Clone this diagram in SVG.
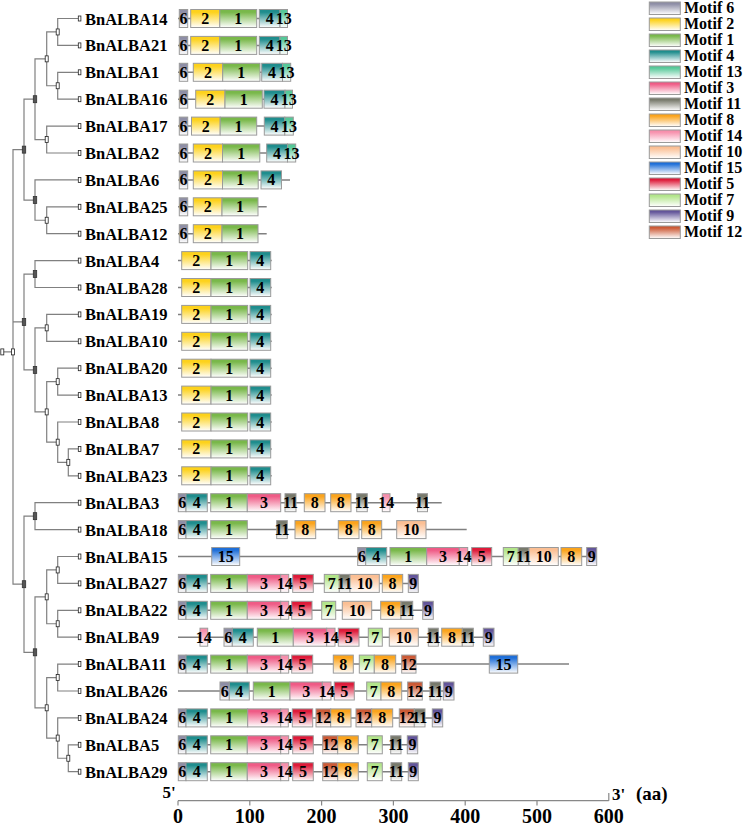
<svg xmlns="http://www.w3.org/2000/svg" width="748" height="827" viewBox="0 0 748 827">
<defs>
<linearGradient id="g6" x1="0" y1="0" x2="0" y2="1"><stop offset="0" stop-color="#8e8ea6"/><stop offset="0.15" stop-color="#8e8ea6"/><stop offset="1" stop-color="#fff"/></linearGradient>
<linearGradient id="g2" x1="0" y1="0" x2="0" y2="1"><stop offset="0" stop-color="#fdd21c"/><stop offset="0.15" stop-color="#fdd21c"/><stop offset="1" stop-color="#fff"/></linearGradient>
<linearGradient id="g1" x1="0" y1="0" x2="0" y2="1"><stop offset="0" stop-color="#79b84a"/><stop offset="0.15" stop-color="#79b84a"/><stop offset="1" stop-color="#fff"/></linearGradient>
<linearGradient id="g4" x1="0" y1="0" x2="0" y2="1"><stop offset="0" stop-color="#1f8d8d"/><stop offset="0.15" stop-color="#1f8d8d"/><stop offset="1" stop-color="#fff"/></linearGradient>
<linearGradient id="g13" x1="0" y1="0" x2="0" y2="1"><stop offset="0" stop-color="#55c898"/><stop offset="0.15" stop-color="#55c898"/><stop offset="1" stop-color="#fff"/></linearGradient>
<linearGradient id="g3" x1="0" y1="0" x2="0" y2="1"><stop offset="0" stop-color="#ef5b86"/><stop offset="0.15" stop-color="#ef5b86"/><stop offset="1" stop-color="#fff"/></linearGradient>
<linearGradient id="g11" x1="0" y1="0" x2="0" y2="1"><stop offset="0" stop-color="#787a6c"/><stop offset="0.15" stop-color="#787a6c"/><stop offset="1" stop-color="#fff"/></linearGradient>
<linearGradient id="g8" x1="0" y1="0" x2="0" y2="1"><stop offset="0" stop-color="#fba41c"/><stop offset="0.15" stop-color="#fba41c"/><stop offset="1" stop-color="#fff"/></linearGradient>
<linearGradient id="g14" x1="0" y1="0" x2="0" y2="1"><stop offset="0" stop-color="#f78fac"/><stop offset="0.15" stop-color="#f78fac"/><stop offset="1" stop-color="#fff"/></linearGradient>
<linearGradient id="g10" x1="0" y1="0" x2="0" y2="1"><stop offset="0" stop-color="#fbbf94"/><stop offset="0.15" stop-color="#fbbf94"/><stop offset="1" stop-color="#fff"/></linearGradient>
<linearGradient id="g15" x1="0" y1="0" x2="0" y2="1"><stop offset="0" stop-color="#1f6fd8"/><stop offset="0.15" stop-color="#1f6fd8"/><stop offset="1" stop-color="#fff"/></linearGradient>
<linearGradient id="g5" x1="0" y1="0" x2="0" y2="1"><stop offset="0" stop-color="#de1b3a"/><stop offset="0.15" stop-color="#de1b3a"/><stop offset="1" stop-color="#fff"/></linearGradient>
<linearGradient id="g7" x1="0" y1="0" x2="0" y2="1"><stop offset="0" stop-color="#b2e58a"/><stop offset="0.15" stop-color="#b2e58a"/><stop offset="1" stop-color="#fff"/></linearGradient>
<linearGradient id="g9" x1="0" y1="0" x2="0" y2="1"><stop offset="0" stop-color="#63559a"/><stop offset="0.15" stop-color="#63559a"/><stop offset="1" stop-color="#fff"/></linearGradient>
<linearGradient id="g12" x1="0" y1="0" x2="0" y2="1"><stop offset="0" stop-color="#cc5a36"/><stop offset="0.15" stop-color="#cc5a36"/><stop offset="1" stop-color="#fff"/></linearGradient>
</defs>
<style>
text{font-family:"Liberation Serif","Times New Roman",serif;font-weight:bold;fill:#000}
.nm{font-size:16.5px}
.row text.l{font-size:16px;text-anchor:middle}
.row rect{stroke:#9a9a9a;stroke-width:1;height:18px}
.row rect.lf{fill:#fff;stroke:#222;stroke-width:0.8;height:5px}
.ln{stroke:#808080;stroke-width:1.5}
.tree path{fill:none;stroke:#808080;stroke-width:1.2}
.nd{fill:#fff;stroke:#222;stroke-width:0.8}
.nd.dk{fill:#555;stroke:#333}
.m6{fill:url(#g6)}.m2{fill:url(#g2)}.m1{fill:url(#g1)}.m4{fill:url(#g4)}.m13{fill:url(#g13)}
.m3{fill:url(#g3)}.m11{fill:url(#g11)}.m8{fill:url(#g8)}.m14{fill:url(#g14)}.m10{fill:url(#g10)}
.m15{fill:url(#g15)}.m5{fill:url(#g5)}.m7{fill:url(#g7)}.m9{fill:url(#g9)}.m12{fill:url(#g12)}
.leg rect{stroke:#9a9a9a;stroke-width:1}
.leg text{font-size:16px}
.ax{stroke:#888;stroke-width:1.2;fill:none}
.tk{font-size:20px;text-anchor:middle}
</style>

<g id="connectors" class="tree">
<path d="M78.3 18.5H57.7V45.4H78.3"/>
<path d="M78.3 72.3H57.7V99.2H78.3"/>
<path d="M57.7 31.95H46.7V85.75H57.7"/>
<path d="M78.3 126.1H46.7V153H78.3"/>
<path d="M46.7 58.85H35V139.55H46.7"/>
<path d="M78.3 206.8H46.7V233.7H78.3"/>
<path d="M78.3 179.9H35V220.25H46.7"/>
<path d="M35 99.2H24V200.08H35"/>
<path d="M78.3 260.6H35V287.5H78.3"/>
<path d="M78.3 314.4H46.7V341.3H78.3"/>
<path d="M78.3 368.2H57.7V395.1H78.3"/>
<path d="M78.3 448.9H68.3V475.8H78.3"/>
<path d="M78.3 422H57.7V462.35H68.3"/>
<path d="M57.7 381.65H46.7V442.18H57.7"/>
<path d="M46.7 327.85H35V411.9H46.7"/>
<path d="M35 274.05H24V369.9H35"/>
<path d="M78.3 502.7H35V529.6H78.3"/>
<path d="M78.3 556.5H57.7V583.4H78.3"/>
<path d="M78.3 610.3H57.7V637.2H78.3"/>
<path d="M57.7 569.95H46.7V623.75H57.7"/>
<path d="M78.3 664.1H57.7V691H78.3"/>
<path d="M78.3 744.8H68.3V771.7H78.3"/>
<path d="M78.3 717.9H57.7V758.25H68.3"/>
<path d="M57.7 677.55H46.7V738.08H57.7"/>
<path d="M46.7 596.85H35V707.8H46.7"/>
<path d="M35 516.15H24V652.3H35"/>
<path d="M24 149.64H13V584.2H24M13 321.97H24M2 351.9H13"/>
</g>

<g id="tree-nodes">
<rect class="nd" x="56.2" y="28.95" width="3" height="6"/>
<rect class="nd" x="56.2" y="82.75" width="3" height="6"/>
<rect class="nd" x="45.2" y="55.85" width="3" height="6"/>
<rect class="nd" x="45.2" y="136.55" width="3" height="6"/>
<rect class="nd dk" x="33.3" y="95.7" width="3.4" height="7"/>
<rect class="nd" x="45.2" y="217.25" width="3" height="6"/>
<rect class="nd dk" x="33.3" y="196.58" width="3.4" height="7"/>
<rect class="nd dk" x="22.3" y="146.14" width="3.4" height="7"/>
<rect class="nd dk" x="33.3" y="270.55" width="3.4" height="7"/>
<rect class="nd" x="45.2" y="324.85" width="3" height="6"/>
<rect class="nd" x="56.2" y="378.65" width="3" height="6"/>
<rect class="nd" x="66.8" y="459.35" width="3" height="6"/>
<rect class="nd" x="56.2" y="439.18" width="3" height="6"/>
<rect class="nd" x="45.2" y="408.9" width="3" height="6"/>
<rect class="nd dk" x="33.3" y="366.4" width="3.4" height="7"/>
<rect class="nd dk" x="22.3" y="318.47" width="3.4" height="7"/>
<rect class="nd dk" x="33.3" y="512.65" width="3.4" height="7"/>
<rect class="nd" x="56.2" y="566.95" width="3" height="6"/>
<rect class="nd" x="56.2" y="620.75" width="3" height="6"/>
<rect class="nd" x="45.2" y="593.85" width="3" height="6"/>
<rect class="nd" x="56.2" y="674.55" width="3" height="6"/>
<rect class="nd" x="66.8" y="755.25" width="3" height="6"/>
<rect class="nd" x="56.2" y="735.08" width="3" height="6"/>
<rect class="nd" x="45.2" y="704.8" width="3" height="6"/>
<rect class="nd dk" x="33.3" y="648.8" width="3.4" height="7"/>
<rect class="nd dk" x="22.3" y="580.7" width="3.4" height="7"/>
<rect class="nd" x="11.5" y="348.9" width="3" height="6"/>
<rect class="nd" x="0.8" y="348.9" width="3" height="6"/>
</g>

<g id="BnALBA14" class="row" transform="translate(0,18.5)">
<rect class="lf" x="78.3" y="-2.5" width="2.6"/><text class="nm" x="85" y="6">BnALBA14</text>
<line class="ln" x1="178" y1="0" x2="287.5" y2="0"/>
<rect class="m6" x="179.3" y="-9" width="8.4"/><rect class="m2" x="190.7" y="-9" width="29.1"/><rect class="m1" x="219.8" y="-9" width="36.9"/><rect class="m4" x="259.3" y="-9" width="20.7"/><rect class="m13" x="280" y="-9" width="7.5"/>
<text class="l" x="183.5" y="5.5">6</text><text class="l" x="205.25" y="5.5">2</text><text class="l" x="238.25" y="5.5">1</text><text class="l" x="269.65" y="5.5">4</text><text class="l" x="283.75" y="5.5">13</text>
</g>
<g id="BnALBA21" class="row" transform="translate(0,45.4)">
<rect class="lf" x="78.3" y="-2.5" width="2.6"/><text class="nm" x="85" y="6">BnALBA21</text>
<line class="ln" x1="178" y1="0" x2="287.5" y2="0"/>
<rect class="m6" x="179.3" y="-9" width="8.4"/><rect class="m2" x="190.7" y="-9" width="29.1"/><rect class="m1" x="219.8" y="-9" width="36.9"/><rect class="m4" x="259.3" y="-9" width="20.7"/><rect class="m13" x="280" y="-9" width="7.5"/>
<text class="l" x="183.5" y="5.5">6</text><text class="l" x="205.25" y="5.5">2</text><text class="l" x="238.25" y="5.5">1</text><text class="l" x="269.65" y="5.5">4</text><text class="l" x="283.75" y="5.5">13</text>
</g>
<g id="BnALBA1" class="row" transform="translate(0,72.3)">
<rect class="lf" x="78.3" y="-2.5" width="2.6"/><text class="nm" x="85" y="6">BnALBA1</text>
<line class="ln" x1="178" y1="0" x2="290.7" y2="0"/>
<rect class="m6" x="179.3" y="-9" width="8.4"/><rect class="m2" x="193.3" y="-9" width="29.4"/><rect class="m1" x="222.7" y="-9" width="37.3"/><rect class="m4" x="261.7" y="-9" width="20.8"/><rect class="m13" x="282.5" y="-9" width="8.2"/>
<text class="l" x="183.5" y="5.5">6</text><text class="l" x="208" y="5.5">2</text><text class="l" x="241.35" y="5.5">1</text><text class="l" x="272.1" y="5.5">4</text><text class="l" x="286.6" y="5.5">13</text>
</g>
<g id="BnALBA16" class="row" transform="translate(0,99.2)">
<rect class="lf" x="78.3" y="-2.5" width="2.6"/><text class="nm" x="85" y="6">BnALBA16</text>
<line class="ln" x1="178" y1="0" x2="292.5" y2="0"/>
<rect class="m6" x="179.3" y="-9" width="8.4"/><rect class="m2" x="195.7" y="-9" width="29.3"/><rect class="m1" x="225" y="-9" width="37.3"/><rect class="m4" x="264" y="-9" width="21"/><rect class="m13" x="285" y="-9" width="7.5"/>
<text class="l" x="183.5" y="5.5">6</text><text class="l" x="210.35" y="5.5">2</text><text class="l" x="243.65" y="5.5">1</text><text class="l" x="274.5" y="5.5">4</text><text class="l" x="288.75" y="5.5">13</text>
</g>
<g id="BnALBA17" class="row" transform="translate(0,126.1)">
<rect class="lf" x="78.3" y="-2.5" width="2.6"/><text class="nm" x="85" y="6">BnALBA17</text>
<line class="ln" x1="178" y1="0" x2="293.3" y2="0"/>
<rect class="m6" x="179.3" y="-9" width="8.4"/><rect class="m2" x="191.5" y="-9" width="28.7"/><rect class="m1" x="220.2" y="-9" width="36.5"/><rect class="m4" x="264.3" y="-9" width="20.5"/><rect class="m13" x="284.8" y="-9" width="8.5"/>
<text class="l" x="183.5" y="5.5">6</text><text class="l" x="205.85" y="5.5">2</text><text class="l" x="238.45" y="5.5">1</text><text class="l" x="274.55" y="5.5">4</text><text class="l" x="289.05" y="5.5">13</text>
</g>
<g id="BnALBA2" class="row" transform="translate(0,153)">
<rect class="lf" x="78.3" y="-2.5" width="2.6"/><text class="nm" x="85" y="6">BnALBA2</text>
<line class="ln" x1="178" y1="0" x2="295.7" y2="0"/>
<rect class="m6" x="179.3" y="-9" width="8.4"/><rect class="m2" x="193.3" y="-9" width="29.2"/><rect class="m1" x="222.5" y="-9" width="37.3"/><rect class="m4" x="266.7" y="-9" width="20.8"/><rect class="m13" x="287.5" y="-9" width="8.2"/>
<text class="l" x="183.5" y="5.5">6</text><text class="l" x="207.9" y="5.5">2</text><text class="l" x="241.15" y="5.5">1</text><text class="l" x="277.1" y="5.5">4</text><text class="l" x="291.6" y="5.5">13</text>
</g>
<g id="BnALBA6" class="row" transform="translate(0,179.9)">
<rect class="lf" x="78.3" y="-2.5" width="2.6"/><text class="nm" x="85" y="6">BnALBA6</text>
<line class="ln" x1="178" y1="0" x2="290" y2="0"/>
<rect class="m6" x="179.3" y="-9" width="8.4"/><rect class="m2" x="193.3" y="-9" width="29.2"/><rect class="m1" x="222.5" y="-9" width="35.7"/><rect class="m4" x="261" y="-9" width="20.5"/>
<text class="l" x="183.5" y="5.5">6</text><text class="l" x="207.9" y="5.5">2</text><text class="l" x="240.35" y="5.5">1</text><text class="l" x="271.25" y="5.5">4</text>
</g>
<g id="BnALBA25" class="row" transform="translate(0,206.8)">
<rect class="lf" x="78.3" y="-2.5" width="2.6"/><text class="nm" x="85" y="6">BnALBA25</text>
<line class="ln" x1="178" y1="0" x2="266.7" y2="0"/>
<rect class="m6" x="179.3" y="-9" width="8.4"/><rect class="m2" x="193.3" y="-9" width="28.7"/><rect class="m1" x="222" y="-9" width="36"/>
<text class="l" x="183.5" y="5.5">6</text><text class="l" x="207.65" y="5.5">2</text><text class="l" x="240" y="5.5">1</text>
</g>
<g id="BnALBA12" class="row" transform="translate(0,233.7)">
<rect class="lf" x="78.3" y="-2.5" width="2.6"/><text class="nm" x="85" y="6">BnALBA12</text>
<line class="ln" x1="178" y1="0" x2="266.7" y2="0"/>
<rect class="m6" x="179.3" y="-9" width="8.4"/><rect class="m2" x="193.3" y="-9" width="28.7"/><rect class="m1" x="222" y="-9" width="36"/>
<text class="l" x="183.5" y="5.5">6</text><text class="l" x="207.65" y="5.5">2</text><text class="l" x="240" y="5.5">1</text>
</g>
<g id="BnALBA4" class="row" transform="translate(0,260.6)">
<rect class="lf" x="78.3" y="-2.5" width="2.6"/><text class="nm" x="85" y="6">BnALBA4</text>
<line class="ln" x1="178" y1="0" x2="271.7" y2="0"/>
<rect class="m2" x="181.7" y="-9" width="29.3"/><rect class="m1" x="211" y="-9" width="36.7"/><rect class="m4" x="250" y="-9" width="20.7"/>
<text class="l" x="196.35" y="5.5">2</text><text class="l" x="229.35" y="5.5">1</text><text class="l" x="260.35" y="5.5">4</text>
</g>
<g id="BnALBA28" class="row" transform="translate(0,287.5)">
<rect class="lf" x="78.3" y="-2.5" width="2.6"/><text class="nm" x="85" y="6">BnALBA28</text>
<line class="ln" x1="178" y1="0" x2="271.7" y2="0"/>
<rect class="m2" x="181.7" y="-9" width="29.3"/><rect class="m1" x="211" y="-9" width="36.7"/><rect class="m4" x="250" y="-9" width="20.7"/>
<text class="l" x="196.35" y="5.5">2</text><text class="l" x="229.35" y="5.5">1</text><text class="l" x="260.35" y="5.5">4</text>
</g>
<g id="BnALBA19" class="row" transform="translate(0,314.4)">
<rect class="lf" x="78.3" y="-2.5" width="2.6"/><text class="nm" x="85" y="6">BnALBA19</text>
<line class="ln" x1="178" y1="0" x2="271.7" y2="0"/>
<rect class="m2" x="181.7" y="-9" width="29.3"/><rect class="m1" x="211" y="-9" width="36.7"/><rect class="m4" x="250" y="-9" width="20.7"/>
<text class="l" x="196.35" y="5.5">2</text><text class="l" x="229.35" y="5.5">1</text><text class="l" x="260.35" y="5.5">4</text>
</g>
<g id="BnALBA10" class="row" transform="translate(0,341.3)">
<rect class="lf" x="78.3" y="-2.5" width="2.6"/><text class="nm" x="85" y="6">BnALBA10</text>
<line class="ln" x1="178" y1="0" x2="271.7" y2="0"/>
<rect class="m2" x="181.7" y="-9" width="29.3"/><rect class="m1" x="211" y="-9" width="36.7"/><rect class="m4" x="250" y="-9" width="20.7"/>
<text class="l" x="196.35" y="5.5">2</text><text class="l" x="229.35" y="5.5">1</text><text class="l" x="260.35" y="5.5">4</text>
</g>
<g id="BnALBA20" class="row" transform="translate(0,368.2)">
<rect class="lf" x="78.3" y="-2.5" width="2.6"/><text class="nm" x="85" y="6">BnALBA20</text>
<line class="ln" x1="178" y1="0" x2="271.7" y2="0"/>
<rect class="m2" x="181.7" y="-9" width="29.3"/><rect class="m1" x="211" y="-9" width="36.7"/><rect class="m4" x="250" y="-9" width="20.7"/>
<text class="l" x="196.35" y="5.5">2</text><text class="l" x="229.35" y="5.5">1</text><text class="l" x="260.35" y="5.5">4</text>
</g>
<g id="BnALBA13" class="row" transform="translate(0,395.1)">
<rect class="lf" x="78.3" y="-2.5" width="2.6"/><text class="nm" x="85" y="6">BnALBA13</text>
<line class="ln" x1="178" y1="0" x2="271.7" y2="0"/>
<rect class="m2" x="181.7" y="-9" width="29.3"/><rect class="m1" x="211" y="-9" width="36.7"/><rect class="m4" x="250" y="-9" width="20.7"/>
<text class="l" x="196.35" y="5.5">2</text><text class="l" x="229.35" y="5.5">1</text><text class="l" x="260.35" y="5.5">4</text>
</g>
<g id="BnALBA8" class="row" transform="translate(0,422)">
<rect class="lf" x="78.3" y="-2.5" width="2.6"/><text class="nm" x="85" y="6">BnALBA8</text>
<line class="ln" x1="178" y1="0" x2="271.7" y2="0"/>
<rect class="m2" x="181.7" y="-9" width="29.3"/><rect class="m1" x="211" y="-9" width="36.7"/><rect class="m4" x="250" y="-9" width="20.7"/>
<text class="l" x="196.35" y="5.5">2</text><text class="l" x="229.35" y="5.5">1</text><text class="l" x="260.35" y="5.5">4</text>
</g>
<g id="BnALBA7" class="row" transform="translate(0,448.9)">
<rect class="lf" x="78.3" y="-2.5" width="2.6"/><text class="nm" x="85" y="6">BnALBA7</text>
<line class="ln" x1="178" y1="0" x2="271.7" y2="0"/>
<rect class="m2" x="181.7" y="-9" width="29.3"/><rect class="m1" x="211" y="-9" width="36.7"/><rect class="m4" x="250" y="-9" width="20.7"/>
<text class="l" x="196.35" y="5.5">2</text><text class="l" x="229.35" y="5.5">1</text><text class="l" x="260.35" y="5.5">4</text>
</g>
<g id="BnALBA23" class="row" transform="translate(0,475.8)">
<rect class="lf" x="78.3" y="-2.5" width="2.6"/><text class="nm" x="85" y="6">BnALBA23</text>
<line class="ln" x1="178" y1="0" x2="271.7" y2="0"/>
<rect class="m2" x="181.7" y="-9" width="29.3"/><rect class="m1" x="211" y="-9" width="36.7"/><rect class="m4" x="250" y="-9" width="20.7"/>
<text class="l" x="196.35" y="5.5">2</text><text class="l" x="229.35" y="5.5">1</text><text class="l" x="260.35" y="5.5">4</text>
</g>
<g id="BnALBA3" class="row" transform="translate(0,502.7)">
<rect class="lf" x="78.3" y="-2.5" width="2.6"/><text class="nm" x="85" y="6">BnALBA3</text>
<line class="ln" x1="178" y1="0" x2="441.7" y2="0"/>
<rect class="m6" x="178.3" y="-9" width="7.7"/><rect class="m4" x="186" y="-9" width="21.3"/><rect class="m1" x="210.7" y="-9" width="36.6"/><rect class="m3" x="247.3" y="-9" width="33.4"/><rect class="m11" x="285" y="-9" width="11"/><rect class="m8" x="304.3" y="-9" width="20.7"/><rect class="m8" x="330.7" y="-9" width="20.3"/><rect class="m11" x="356.7" y="-9" width="10.6"/><rect class="m14" x="382.3" y="-9" width="7.7"/><rect class="m11" x="417.5" y="-9" width="10"/>
<text class="l" x="182.15" y="5.5">6</text><text class="l" x="196.65" y="5.5">4</text><text class="l" x="229" y="5.5">1</text><text class="l" x="264" y="5.5">3</text><text class="l" x="290.5" y="5.5">11</text><text class="l" x="314.65" y="5.5">8</text><text class="l" x="340.85" y="5.5">8</text><text class="l" x="362" y="5.5">11</text><text class="l" x="386.15" y="5.5">14</text><text class="l" x="422.5" y="5.5">11</text>
</g>
<g id="BnALBA18" class="row" transform="translate(0,529.6)">
<rect class="lf" x="78.3" y="-2.5" width="2.6"/><text class="nm" x="85" y="6">BnALBA18</text>
<line class="ln" x1="178" y1="0" x2="466.7" y2="0"/>
<rect class="m6" x="178.3" y="-9" width="7.7"/><rect class="m4" x="186" y="-9" width="21.3"/><rect class="m1" x="210.7" y="-9" width="36.6"/><rect class="m11" x="276.7" y="-9" width="10.6"/><rect class="m8" x="295" y="-9" width="20.7"/><rect class="m8" x="338.3" y="-9" width="20.7"/><rect class="m8" x="361.7" y="-9" width="20"/><rect class="m10" x="396.7" y="-9" width="29.3"/>
<text class="l" x="182.15" y="5.5">6</text><text class="l" x="196.65" y="5.5">4</text><text class="l" x="229" y="5.5">1</text><text class="l" x="282" y="5.5">11</text><text class="l" x="305.35" y="5.5">8</text><text class="l" x="348.65" y="5.5">8</text><text class="l" x="371.7" y="5.5">8</text><text class="l" x="411.35" y="5.5">10</text>
</g>
<g id="BnALBA15" class="row" transform="translate(0,556.5)">
<rect class="lf" x="78.3" y="-2.5" width="2.6"/><text class="nm" x="85" y="6">BnALBA15</text>
<line class="ln" x1="178" y1="0" x2="596.7" y2="0"/>
<rect class="m15" x="211.7" y="-9" width="28"/><rect class="m6" x="357.7" y="-9" width="8"/><rect class="m4" x="365.7" y="-9" width="21"/><rect class="m1" x="390" y="-9" width="36.7"/><rect class="m3" x="426.7" y="-9" width="32.6"/><rect class="m14" x="459.3" y="-9" width="8.4"/><rect class="m5" x="471.7" y="-9" width="20"/><rect class="m7" x="503.3" y="-9" width="15"/><rect class="m11" x="518.3" y="-9" width="10.7"/><rect class="m10" x="529" y="-9" width="29.3"/><rect class="m8" x="561" y="-9" width="20.7"/><rect class="m9" x="586.7" y="-9" width="10"/>
<text class="l" x="225.7" y="5.5">15</text><text class="l" x="361.7" y="5.5">6</text><text class="l" x="376.2" y="5.5">4</text><text class="l" x="408.35" y="5.5">1</text><text class="l" x="443" y="5.5">3</text><text class="l" x="463.5" y="5.5">14</text><text class="l" x="481.7" y="5.5">5</text><text class="l" x="510.8" y="5.5">7</text><text class="l" x="523.65" y="5.5">11</text><text class="l" x="543.65" y="5.5">10</text><text class="l" x="571.35" y="5.5">8</text><text class="l" x="591.7" y="5.5">9</text>
</g>
<g id="BnALBA27" class="row" transform="translate(0,583.4)">
<rect class="lf" x="78.3" y="-2.5" width="2.6"/><text class="nm" x="85" y="6">BnALBA27</text>
<line class="ln" x1="178" y1="0" x2="418.3" y2="0"/>
<rect class="m6" x="178.3" y="-9" width="7.7"/><rect class="m4" x="186" y="-9" width="21.3"/><rect class="m1" x="210.7" y="-9" width="36.6"/><rect class="m3" x="247.3" y="-9" width="33.4"/><rect class="m14" x="280.7" y="-9" width="8"/><rect class="m5" x="292.7" y="-9" width="20.6"/><rect class="m7" x="324.3" y="-9" width="15"/><rect class="m11" x="339.3" y="-9" width="10.7"/><rect class="m10" x="350" y="-9" width="29.3"/><rect class="m8" x="382.3" y="-9" width="20.4"/><rect class="m9" x="408.3" y="-9" width="10"/>
<text class="l" x="182.15" y="5.5">6</text><text class="l" x="196.65" y="5.5">4</text><text class="l" x="229" y="5.5">1</text><text class="l" x="264" y="5.5">3</text><text class="l" x="284.7" y="5.5">14</text><text class="l" x="303" y="5.5">5</text><text class="l" x="331.8" y="5.5">7</text><text class="l" x="344.65" y="5.5">11</text><text class="l" x="364.65" y="5.5">10</text><text class="l" x="392.5" y="5.5">8</text><text class="l" x="413.3" y="5.5">9</text>
</g>
<g id="BnALBA22" class="row" transform="translate(0,610.3)">
<rect class="lf" x="78.3" y="-2.5" width="2.6"/><text class="nm" x="85" y="6">BnALBA22</text>
<line class="ln" x1="178" y1="0" x2="433.3" y2="0"/>
<rect class="m6" x="178.3" y="-9" width="7.7"/><rect class="m4" x="186" y="-9" width="21.3"/><rect class="m1" x="210.7" y="-9" width="36.6"/><rect class="m3" x="247.3" y="-9" width="33.4"/><rect class="m14" x="280.7" y="-9" width="8"/><rect class="m5" x="291.7" y="-9" width="20.3"/><rect class="m7" x="321.7" y="-9" width="14"/><rect class="m10" x="342.3" y="-9" width="29.4"/><rect class="m8" x="380.7" y="-9" width="20.3"/><rect class="m11" x="401" y="-9" width="11.7"/><rect class="m9" x="422.7" y="-9" width="10.6"/>
<text class="l" x="182.15" y="5.5">6</text><text class="l" x="196.65" y="5.5">4</text><text class="l" x="229" y="5.5">1</text><text class="l" x="264" y="5.5">3</text><text class="l" x="284.7" y="5.5">14</text><text class="l" x="301.85" y="5.5">5</text><text class="l" x="328.7" y="5.5">7</text><text class="l" x="357" y="5.5">10</text><text class="l" x="390.85" y="5.5">8</text><text class="l" x="406.85" y="5.5">11</text><text class="l" x="428" y="5.5">9</text>
</g>
<g id="BnALBA9" class="row" transform="translate(0,637.2)">
<rect class="lf" x="78.3" y="-2.5" width="2.6"/><text class="nm" x="85" y="6">BnALBA9</text>
<line class="ln" x1="178" y1="0" x2="494" y2="0"/>
<rect class="m14" x="200" y="-9" width="7.7"/><rect class="m6" x="224" y="-9" width="8.3"/><rect class="m4" x="232.3" y="-9" width="21"/><rect class="m1" x="257.3" y="-9" width="36"/><rect class="m3" x="293.3" y="-9" width="33.4"/><rect class="m14" x="326.7" y="-9" width="8.3"/><rect class="m5" x="338.3" y="-9" width="20.7"/><rect class="m7" x="368.3" y="-9" width="14"/><rect class="m10" x="389.3" y="-9" width="29"/><rect class="m11" x="428.3" y="-9" width="10"/><rect class="m8" x="441.7" y="-9" width="20.6"/><rect class="m11" x="462.3" y="-9" width="11"/><rect class="m9" x="483.3" y="-9" width="10.7"/>
<text class="l" x="203.85" y="5.5">14</text><text class="l" x="228.15" y="5.5">6</text><text class="l" x="242.8" y="5.5">4</text><text class="l" x="275.3" y="5.5">1</text><text class="l" x="310" y="5.5">3</text><text class="l" x="330.85" y="5.5">14</text><text class="l" x="348.65" y="5.5">5</text><text class="l" x="375.3" y="5.5">7</text><text class="l" x="403.8" y="5.5">10</text><text class="l" x="433.3" y="5.5">11</text><text class="l" x="452" y="5.5">8</text><text class="l" x="467.8" y="5.5">11</text><text class="l" x="488.65" y="5.5">9</text>
</g>
<g id="BnALBA11" class="row" transform="translate(0,664.1)">
<rect class="lf" x="78.3" y="-2.5" width="2.6"/><text class="nm" x="85" y="6">BnALBA11</text>
<line class="ln" x1="178" y1="0" x2="569" y2="0"/>
<rect class="m6" x="178.3" y="-9" width="7.7"/><rect class="m4" x="186" y="-9" width="21.3"/><rect class="m1" x="210.7" y="-9" width="36.6"/><rect class="m3" x="247.3" y="-9" width="33.4"/><rect class="m14" x="280.7" y="-9" width="8"/><rect class="m5" x="291.7" y="-9" width="21"/><rect class="m8" x="333.3" y="-9" width="20"/><rect class="m7" x="359.3" y="-9" width="15"/><rect class="m8" x="374.3" y="-9" width="21.4"/><rect class="m12" x="401.7" y="-9" width="14.3"/><rect class="m15" x="489.3" y="-9" width="28.4"/>
<text class="l" x="182.15" y="5.5">6</text><text class="l" x="196.65" y="5.5">4</text><text class="l" x="229" y="5.5">1</text><text class="l" x="264" y="5.5">3</text><text class="l" x="284.7" y="5.5">14</text><text class="l" x="302.2" y="5.5">5</text><text class="l" x="343.3" y="5.5">8</text><text class="l" x="366.8" y="5.5">7</text><text class="l" x="385" y="5.5">8</text><text class="l" x="408.85" y="5.5">12</text><text class="l" x="503.5" y="5.5">15</text>
</g>
<g id="BnALBA26" class="row" transform="translate(0,691)">
<rect class="lf" x="78.3" y="-2.5" width="2.6"/><text class="nm" x="85" y="6">BnALBA26</text>
<line class="ln" x1="178" y1="0" x2="454" y2="0"/>
<rect class="m6" x="220" y="-9" width="9.3"/><rect class="m4" x="229.3" y="-9" width="20"/><rect class="m1" x="253.3" y="-9" width="36.7"/><rect class="m3" x="290" y="-9" width="32.3"/><rect class="m14" x="322.3" y="-9" width="8.7"/><rect class="m5" x="334.3" y="-9" width="20"/><rect class="m7" x="366.7" y="-9" width="14.3"/><rect class="m8" x="381" y="-9" width="20.7"/><rect class="m12" x="407.7" y="-9" width="14.6"/><rect class="m11" x="430" y="-9" width="10.7"/><rect class="m9" x="443.3" y="-9" width="10.7"/>
<text class="l" x="224.65" y="5.5">6</text><text class="l" x="239.3" y="5.5">4</text><text class="l" x="271.65" y="5.5">1</text><text class="l" x="306.15" y="5.5">3</text><text class="l" x="326.65" y="5.5">14</text><text class="l" x="344.3" y="5.5">5</text><text class="l" x="373.85" y="5.5">7</text><text class="l" x="391.35" y="5.5">8</text><text class="l" x="415" y="5.5">12</text><text class="l" x="435.35" y="5.5">11</text><text class="l" x="448.65" y="5.5">9</text>
</g>
<g id="BnALBA24" class="row" transform="translate(0,717.9)">
<rect class="lf" x="78.3" y="-2.5" width="2.6"/><text class="nm" x="85" y="6">BnALBA24</text>
<line class="ln" x1="178" y1="0" x2="442.7" y2="0"/>
<rect class="m6" x="178.3" y="-9" width="7.7"/><rect class="m4" x="186" y="-9" width="21.3"/><rect class="m1" x="210.7" y="-9" width="37"/><rect class="m3" x="247.7" y="-9" width="33"/><rect class="m14" x="280.7" y="-9" width="7.6"/><rect class="m5" x="292.3" y="-9" width="20.4"/><rect class="m12" x="316" y="-9" width="14.7"/><rect class="m8" x="330.7" y="-9" width="20.3"/><rect class="m12" x="356" y="-9" width="15.7"/><rect class="m8" x="371.7" y="-9" width="21"/><rect class="m12" x="399.3" y="-9" width="15"/><rect class="m11" x="414.3" y="-9" width="10.7"/><rect class="m9" x="432.3" y="-9" width="10.4"/>
<text class="l" x="182.15" y="5.5">6</text><text class="l" x="196.65" y="5.5">4</text><text class="l" x="229.2" y="5.5">1</text><text class="l" x="264.2" y="5.5">3</text><text class="l" x="284.5" y="5.5">14</text><text class="l" x="302.5" y="5.5">5</text><text class="l" x="323.35" y="5.5">12</text><text class="l" x="340.85" y="5.5">8</text><text class="l" x="363.85" y="5.5">12</text><text class="l" x="382.2" y="5.5">8</text><text class="l" x="406.8" y="5.5">12</text><text class="l" x="419.65" y="5.5">11</text><text class="l" x="437.5" y="5.5">9</text>
</g>
<g id="BnALBA5" class="row" transform="translate(0,744.8)">
<rect class="lf" x="78.3" y="-2.5" width="2.6"/><text class="nm" x="85" y="6">BnALBA5</text>
<line class="ln" x1="178" y1="0" x2="417.7" y2="0"/>
<rect class="m6" x="178.3" y="-9" width="7.7"/><rect class="m4" x="186" y="-9" width="21.3"/><rect class="m1" x="210.7" y="-9" width="36.6"/><rect class="m3" x="247.3" y="-9" width="33.4"/><rect class="m14" x="280.7" y="-9" width="8"/><rect class="m5" x="292.7" y="-9" width="20.6"/><rect class="m12" x="322.7" y="-9" width="15"/><rect class="m8" x="337.7" y="-9" width="20.6"/><rect class="m7" x="367.3" y="-9" width="15"/><rect class="m11" x="390.7" y="-9" width="10.3"/><rect class="m9" x="407.3" y="-9" width="10.4"/>
<text class="l" x="182.15" y="5.5">6</text><text class="l" x="196.65" y="5.5">4</text><text class="l" x="229" y="5.5">1</text><text class="l" x="264" y="5.5">3</text><text class="l" x="284.7" y="5.5">14</text><text class="l" x="303" y="5.5">5</text><text class="l" x="330.2" y="5.5">12</text><text class="l" x="348" y="5.5">8</text><text class="l" x="374.8" y="5.5">7</text><text class="l" x="395.85" y="5.5">11</text><text class="l" x="412.5" y="5.5">9</text>
</g>
<g id="BnALBA29" class="row" transform="translate(0,771.7)">
<rect class="lf" x="78.3" y="-2.5" width="2.6"/><text class="nm" x="85" y="6">BnALBA29</text>
<line class="ln" x1="178" y1="0" x2="418.3" y2="0"/>
<rect class="m6" x="178.3" y="-9" width="7.7"/><rect class="m4" x="186" y="-9" width="21.3"/><rect class="m1" x="210.7" y="-9" width="36.6"/><rect class="m3" x="247.3" y="-9" width="33.4"/><rect class="m14" x="280.7" y="-9" width="8"/><rect class="m5" x="292.7" y="-9" width="20.6"/><rect class="m12" x="322.7" y="-9" width="15"/><rect class="m8" x="337.7" y="-9" width="20.6"/><rect class="m7" x="367.3" y="-9" width="15"/><rect class="m11" x="391" y="-9" width="10.7"/><rect class="m9" x="408.3" y="-9" width="10"/>
<text class="l" x="182.15" y="5.5">6</text><text class="l" x="196.65" y="5.5">4</text><text class="l" x="229" y="5.5">1</text><text class="l" x="264" y="5.5">3</text><text class="l" x="284.7" y="5.5">14</text><text class="l" x="303" y="5.5">5</text><text class="l" x="330.2" y="5.5">12</text><text class="l" x="348" y="5.5">8</text><text class="l" x="374.8" y="5.5">7</text><text class="l" x="396.35" y="5.5">11</text><text class="l" x="413.3" y="5.5">9</text>
</g>

<g id="legend" class="leg">
<rect class="m6" x="649.3" y="2" width="31" height="12.5"/><text x="684" y="13">Motif 6</text>
<rect class="m2" x="649.3" y="18" width="31" height="12.5"/><text x="684" y="29">Motif 2</text>
<rect class="m1" x="649.3" y="34" width="31" height="12.5"/><text x="684" y="45">Motif 1</text>
<rect class="m4" x="649.3" y="50" width="31" height="12.5"/><text x="684" y="61">Motif 4</text>
<rect class="m13" x="649.3" y="66" width="31" height="12.5"/><text x="684" y="77">Motif 13</text>
<rect class="m3" x="649.3" y="82" width="31" height="12.5"/><text x="684" y="93">Motif 3</text>
<rect class="m11" x="649.3" y="98" width="31" height="12.5"/><text x="684" y="109">Motif 11</text>
<rect class="m8" x="649.3" y="114" width="31" height="12.5"/><text x="684" y="125">Motif 8</text>
<rect class="m14" x="649.3" y="130" width="31" height="12.5"/><text x="684" y="141">Motif 14</text>
<rect class="m10" x="649.3" y="146" width="31" height="12.5"/><text x="684" y="157">Motif 10</text>
<rect class="m15" x="649.3" y="162" width="31" height="12.5"/><text x="684" y="173">Motif 15</text>
<rect class="m5" x="649.3" y="178" width="31" height="12.5"/><text x="684" y="189">Motif 5</text>
<rect class="m7" x="649.3" y="194" width="31" height="12.5"/><text x="684" y="205">Motif 7</text>
<rect class="m9" x="649.3" y="210" width="31" height="12.5"/><text x="684" y="221">Motif 9</text>
<rect class="m12" x="649.3" y="226" width="31" height="12.5"/><text x="684" y="237">Motif 12</text>
</g>

<g id="axis">
<path class="ax" d="M178 800.7H608.8M178 800.7V805.5M249.8 800.7V805.5M321.6 800.7V805.5M393.4 800.7V805.5M465.2 800.7V805.5M537 800.7V805.5M608.8 793V800.7"/>
<text x="162.5" y="798" style="font-size:17px">5'</text>
<text x="612" y="800" style="font-size:17px">3'</text>
<text x="636" y="800" style="font-size:19px">(aa)</text>
<text class="tk" x="178" y="823">0</text>
<text class="tk" x="249.8" y="823">100</text>
<text class="tk" x="321.6" y="823">200</text>
<text class="tk" x="393.4" y="823">300</text>
<text class="tk" x="465.2" y="823">400</text>
<text class="tk" x="537" y="823">500</text>
<text class="tk" x="608.8" y="823">600</text>
</g>
</svg>
